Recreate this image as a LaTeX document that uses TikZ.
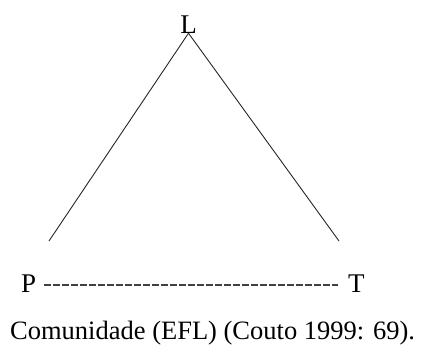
\documentclass[tikz,border=0pt]{standalone}
\usepackage{fontspec}
\setmainfont{Liberation Serif}
\usepackage{tikz}
\usetikzlibrary{positioning}

\begin{document}
\begin{tikzpicture}[x=1pt,y=-1pt,
  lbl/.style={inner sep=0pt,font=\fontsize{27}{32}\selectfont},
  legline/.style={draw=black!85,line width=0.9pt},
  dashline/.style={draw=black!75,line width=1.3pt,dash pattern=on 6.3pt off 2.7pt}]
\useasboundingbox (0,0) rectangle (421,349);
\node[lbl,anchor=base] (L) at (188.5,33) {L};
\node[lbl,anchor=base west] (P) at (21,292) {P};
\node[lbl,anchor=base west] (T) at (348,292) {T};
\coordinate (pl) at (49,241);
\coordinate (pr) at (339,241);
\draw[legline] (L.south)--(pl);
\draw[legline] (L.south)--(pr);
\draw[dashline] ([xshift=8pt,yshift=7pt]P.base east)--([xshift=-10pt,yshift=7pt]T.base west);
\node[lbl,anchor=base west,font=\fontsize{26.5}{30}\selectfont] (cap) at (10,339) {Comunidade (EFL) (Couto 1999: 69).};
\end{tikzpicture}
\end{document}
